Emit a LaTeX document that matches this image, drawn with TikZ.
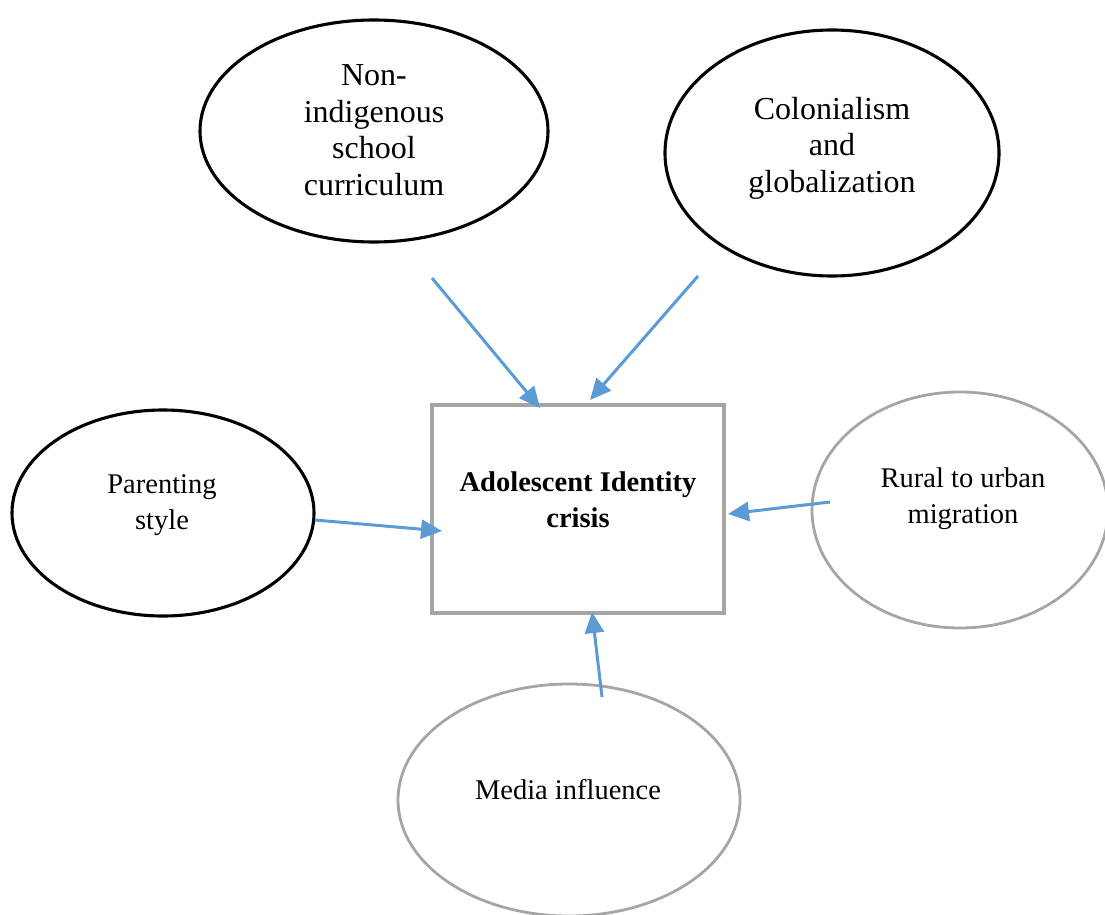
\documentclass[tikz,border=0pt]{standalone}
\usepackage{fontspec}
\setmainfont{Liberation Serif}
\usetikzlibrary{arrows.meta,shapes.geometric}
\definecolor{arrowblue}{HTML}{5B9BD5}
\definecolor{edgegray}{HTML}{A5A5A5}
\begin{document}
\begin{tikzpicture}[x=1pt,y=-1pt,
  blackell/.style={ellipse,draw=black,line width=3.1pt,inner sep=0pt},
  grayell/.style={ellipse,draw=edgegray,line width=2.8pt,inner sep=0pt},
  lbl/.style={align=center,font=\fontsize{28.5}{36}\selectfont,inner sep=0pt},
  biglbl/.style={align=center,font=\fontsize{32}{36.5}\selectfont,inner sep=0pt},
  conn/.style={draw=arrowblue,line width=3pt,-{Triangle[length=21pt,width=19pt]}}]
\useasboundingbox (0,0) rectangle (1105,915);
% shapes
\node[blackell,minimum width=348pt,minimum height=222pt] (curr) at (374,131) {};
\node[blackell,minimum width=334pt,minimum height=246pt] (colon) at (832,153) {};
\node[blackell,minimum width=302pt,minimum height=206pt] (parent) at (163,513) {};
\node[grayell,minimum width=296pt,minimum height=236pt] (rural) at (960,510) {};
\node[grayell,minimum width=342pt,minimum height=232pt] (media) at (569,800) {};
\node[draw=edgegray,line width=3.2pt,minimum width=292pt,minimum height=208pt,inner sep=0pt] (box) at (578,509) {};
% texts
\node[biglbl] (tcurr) at (374,130) {Non-\\indigenous\\school\\curriculum};
\node[biglbl] (tcolon) at (832,148) {Colonialism\\and\\globalization};
\node[lbl] (tparent) at (162,505) {Parenting\\style};
\node[lbl] (trural) at (963,499) {Rural to urban\\migration};
\node[lbl] (tmedia) at (568,790) {Media influence};
\node[lbl,font=\fontsize{28.5}{36}\selectfont\bfseries] (tbox) at (578,500) {Adolescent Identity\\crisis};
% connector ends
\coordinate (s1) at (432,278); \coordinate (e1) at (540,408);
\coordinate (s2) at (698,276); \coordinate (e2) at (590,400);
\coordinate (s3) at (315,520); \coordinate (e3) at (442,531);
\coordinate (s4) at (830,502); \coordinate (e4) at (728,514);
\coordinate (s5) at (602,697); \coordinate (e5) at (592,612);
\draw[conn] (s1) -- (e1);
\draw[conn] (s2) -- (e2);
\draw[conn] (s3) -- (e3);
\draw[conn] (s4) -- (e4);
\draw[conn] (s5) -- (e5);
\end{tikzpicture}
\end{document}
